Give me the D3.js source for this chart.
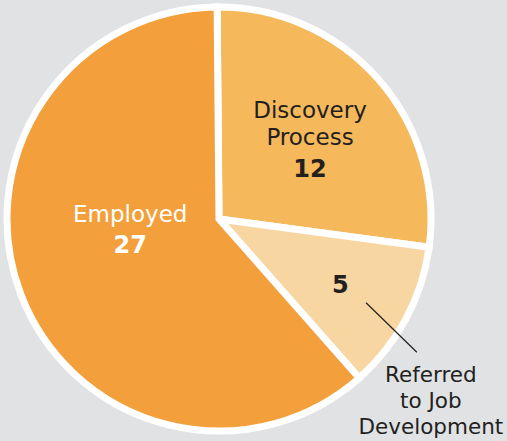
<!DOCTYPE html>
<html>
<head>
<meta charset="utf-8">
<script src="https://cdn.jsdelivr.net/npm/d3@7"></script>
<style>
  html, body { margin: 0; padding: 0; background: #e1e2e4; }
  svg { display: block; }
</style>
</head>
<body>
<svg id="chart" width="507" height="441"></svg>
<script>
const categories = ["Discovery Process", "Referred to Job Development", "Employed"];
const values = [12, 5, 27];
const colors = ["#f5b85a", "#f7d6a2", "#f3a03c"];

const width = 507, height = 441;
const cx = 219, cy = 219, R = 212;

const svg = d3.select("#chart");
svg.append("rect").attr("width", width).attr("height", height).attr("fill", "#e1e2e4");

const g = svg.append("g").attr("transform", `translate(${cx},${cy})`);

const pie = d3.pie().sort(null).value(d => d)
  .startAngle(-0.5 * Math.PI / 180).endAngle(2 * Math.PI - 0.5 * Math.PI / 180);
const arcs = pie(values);
const arc = d3.arc().innerRadius(0).outerRadius(R);
const labelArc = d3.arc().innerRadius(124).outerRadius(124);

g.selectAll("path.slice").data(arcs).join("path")
  .attr("class", "slice")
  .attr("d", arc)
  .attr("fill", (d, i) => colors[i])
  .attr("stroke", "#ffffff")
  .attr("stroke-width", 7)
  .attr("stroke-linejoin", "miter");

const font = "'DejaVu Sans', 'Noto Sans', sans-serif";

// label layout: offsets from centroid (first baseline)
const layout = [
  { dx: -2, dy: -19, lines: ["Discovery", "Process"], numGap: 32, color: "#231f20" },
  { dx: 12, dy: 15.5, lines: [], numGap: 0, color: "#231f20" },
  { dx: 27, dy: -41, lines: ["Employed"], numGap: 31, color: "#ffffff" }
];
const lineH = 27;

arcs.forEach((d, i) => {
  const [x, y] = labelArc.centroid(d);
  const L = layout[i];
  const tx = x + L.dx, ty = y + L.dy;
  const n = L.lines.length;
  L.lines.forEach((ln, k) => {
    g.append("text")
      .attr("text-anchor", "middle")
      .attr("font-family", font)
      .attr("fill", L.color)
      .attr("x", tx).attr("y", ty + lineH * k)
      .attr("font-size", 23).text(ln);
  });
  const numY = n === 0 ? ty : ty + lineH * (n - 1) + L.numGap;
  g.append("text")
    .attr("text-anchor", "middle")
    .attr("font-family", font)
    .attr("fill", L.color)
    .attr("x", tx).attr("y", numY)
    .attr("font-size", 24).attr("font-weight", "bold").text(values[i]);
});

// leader line for Referred slice
const refArc = arcs[1];
const inner = d3.arc().innerRadius(169).outerRadius(169).centroid(refArc);
const outer = d3.arc().innerRadius(238).outerRadius(238).centroid(refArc);
g.append("line")
  .attr("x1", inner[0] - 2).attr("y1", inner[1] + 4)
  .attr("x2", outer[0] - 12).attr("y2", outer[1] + 21)
  .attr("stroke", "#231f20").attr("stroke-width", 1.2);

const refLines = ["Referred", "to Job", "Development"];
refLines.forEach((ln, k) => {
  g.append("text")
    .attr("text-anchor", "middle")
    .attr("font-family", font)
    .attr("font-size", 21.5)
    .attr("fill", "#231f20")
    .attr("x", outer[0] + 2).attr("y", outer[1] + 51 + k * 26).text(ln);
});
</script>
</body>
</html>
